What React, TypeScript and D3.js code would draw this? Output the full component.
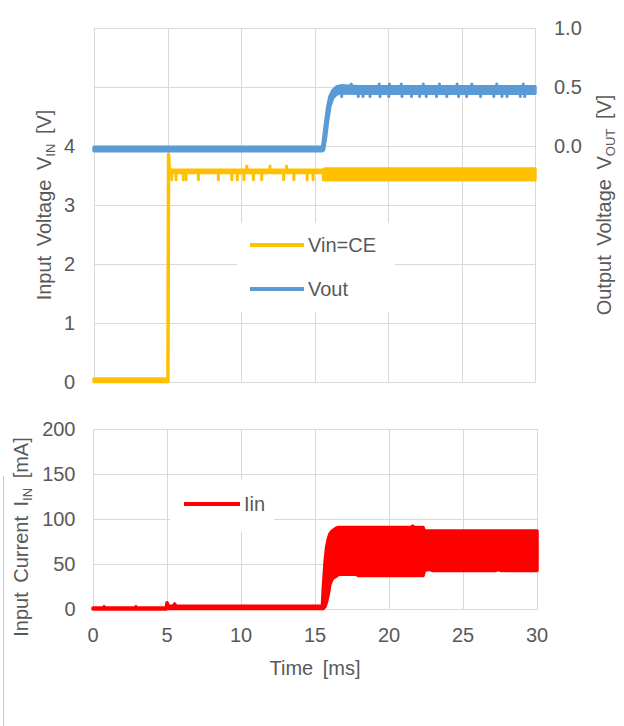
import React from 'react';
import * as d3 from 'd3';

// ---------- axes / ticks ----------
const xTicks = [0, 5, 10, 15, 20, 25, 30];
const vinGrid = [0, 1, 2, 3, 4, 5, 6];
const vinLabels = [0, 1, 2, 3, 4];
const voutLabels = [0, 0.5, 1.0];
const iinTicks = [0, 50, 100, 150, 200];

// ---------- Vin = CE (envelope, V) ----------
const vinTime = [0, 5.03, 5.07, 5.12, 15.6, 15.7, 30];
const vinLo = [0.01, 0.01, 3.84, 3.55, 3.55, 3.43, 3.43];
const vinHi = [0.05, 0.05, 3.86, 3.59, 3.59, 3.61, 3.61];
const vinBase = 3.57;
const vinDips = [5.29, 5.58, 6.07, 6.26, 7.1, 8.46, 9.37, 9.75, 10.2, 10.84, 11.41, 12.9, 13.6, 14.5, 14.9, 15.6];
const vinDipLevel = 3.43;
const vinSpikes = [10.39, 11.97, 13.1];
const vinSpikeLevel = 3.66;

// ---------- Vout (envelope, V) ----------
const voutTime = [0, 15.55, 15.62, 15.75, 15.9, 16.05, 16.25, 16.5, 16.8, 18, 30];
const voutLo = [-0.04, -0.04, -0.03, 0.07, 0.22, 0.34, 0.41, 0.44, 0.45, 0.447, 0.447];
const voutHi = [-0.01, -0.01, 0.06, 0.19, 0.33, 0.42, 0.47, 0.5, 0.51, 0.502, 0.502];
const voutBase = 0.475;
const voutDips = [16.85, 17.98, 18.3, 18.78, 19.46, 20.05, 20.95, 21.6, 22.15, 22.6, 23.3, 24.0, 24.8, 25.35, 26.3, 27.2, 27.75, 28.1, 29.0, 29.3];
const voutDipLevel = 0.42;
const voutSpikes = [17.5, 19.4, 20.1, 20.9, 22.4, 23.5, 24.7, 25.7, 27.4, 29.2];
const voutSpikeLevel = 0.525;

// ---------- Iin (envelope, mA) ----------
const iinTime = [0, 0.7, 0.75, 0.8, 2.85, 2.9, 2.95, 4.95, 5.0, 5.08, 5.2, 5.45, 5.52, 5.6, 5.8, 15.5, 15.55, 15.68, 15.78, 15.9, 16.0, 16.12, 16.2, 16.46, 16.6, 17.8, 17.9, 21.5, 21.6, 21.7, 22.3, 22.4, 22.7, 23.0, 27.2, 27.35, 27.6, 30];
const iinHi = [1, 1, 2.5, 1, 1, 2.5, 1, 1, 7, 4, 3, 3, 5.5, 3, 3, 3, 20, 52, 68, 78, 83, 86, 87, 90, 90.5, 90.5, 90.5, 90.5, 92, 90.5, 90.5, 86.6, 86.6, 86.6, 86.6, 86.6, 86.6, 86.6];
const iinLo = [0, 0, 0, 0, 0, 0, 0, 0, 0.5, 0.5, 0.5, 0.5, 0.5, 0.5, 0.5, 0.5, 0.5, 3, 8, 17, 27, 32, 34, 37, 38.6, 38.6, 37.2, 37.2, 37.2, 37.2, 37.2, 43, 44, 42.7, 42.7, 44, 42.7, 42.7];

const FONT = '"Liberation Sans", Arial, Helvetica, sans-serif';
const TXT = '#595959';
const GRID = '#D9D9D9';
const C_VIN = '#FFC000';
const C_VOUT = '#5B9BD5';
const C_IIN = '#FF0000';

function envPath(
  time: number[], lo: number[], hi: number[],
  x: d3.ScaleLinear<number, number>, y: d3.ScaleLinear<number, number>
) {
  const idx = time.map((_, i) => i);
  return d3.area<number>()
    .x((i) => x(time[i]))
    .y0((i) => y(lo[i]))
    .y1((i) => y(hi[i]))(idx) || '';
}

export default function App() {
  const xTop = d3.scaleLinear().domain([0, 30]).range([94, 535]);
  const yVin = d3.scaleLinear().domain([0, 6]).range([382, 28]);
  const yVout = d3.scaleLinear().domain([-2, 1]).range([382, 28]);
  const xBot = d3.scaleLinear().domain([0, 30]).range([93, 537]);
  const yIin = d3.scaleLinear().domain([0, 200]).range([609, 429]);
  const fmt1 = d3.format('.1f');
  const r = (v: number) => Math.round(v) + 0.5;

  const vinArea = envPath(vinTime, vinLo, vinHi, xTop, yVin);
  const voutArea = envPath(voutTime, voutLo, voutHi, xTop, yVout);
  const iinArea = envPath(iinTime, iinLo, iinHi, xBot, yIin);

  const textStyle = { fontFamily: FONT, fill: TXT };

  return (
    <svg width={624} height={726} style={{ position: 'absolute', left: 0, top: 0, background: '#fff' }}>
      <rect x={0} y={0} width={624} height={726} fill="#fff" />

      {/* ================= TOP PLOT ================= */}
      <g>
        {vinGrid.map((v) => (
          <line key={'hg' + v} x1={xTop(0)} x2={xTop(30)} y1={r(yVin(v))} y2={r(yVin(v))} stroke={GRID} strokeWidth={1} />
        ))}
        {xTicks.map((t) => (
          <line key={'vg' + t} x1={r(xTop(t))} x2={r(xTop(t))} y1={yVin(6)} y2={yVin(0)} stroke={GRID} strokeWidth={1} />
        ))}
        <rect x={r(xTop(0))} y={r(yVin(6))} width={Math.round(xTop(30) - xTop(0))} height={Math.round(yVin(0) - yVin(6))} fill="none" stroke={GRID} />

        {/* legend box (covers grid) */}
        <rect x={237} y={223} width={158} height={89} fill="#fff" />

        {/* Vin */}
        <path d={vinArea} fill={C_VIN} stroke={C_VIN} strokeWidth={3.5} strokeLinejoin="round" />
        {vinDips.map((t, i) => (
          <line key={'vd' + i} x1={xTop(t)} x2={xTop(t)} y1={yVin(vinBase)} y2={yVin(vinDipLevel)} stroke={C_VIN} strokeWidth={3} strokeLinecap="round" />
        ))}
        {vinSpikes.map((t, i) => (
          <line key={'vs' + i} x1={xTop(t)} x2={xTop(t)} y1={yVin(vinBase)} y2={yVin(vinSpikeLevel)} stroke={C_VIN} strokeWidth={3} strokeLinecap="round" />
        ))}

        {/* Vout */}
        <path d={voutArea} fill={C_VOUT} stroke={C_VOUT} strokeWidth={3.5} strokeLinejoin="round" />
        {voutDips.map((t, i) => (
          <line key={'od' + i} x1={xTop(t)} x2={xTop(t)} y1={yVout(voutBase)} y2={yVout(voutDipLevel)} stroke={C_VOUT} strokeWidth={3} strokeLinecap="round" />
        ))}
        {voutSpikes.map((t, i) => (
          <line key={'os' + i} x1={xTop(t)} x2={xTop(t)} y1={yVout(voutBase)} y2={yVout(voutSpikeLevel)} stroke={C_VOUT} strokeWidth={3} strokeLinecap="round" />
        ))}

        {/* left tick labels */}
        {vinLabels.map((v) => (
          <text key={'lt' + v} x={75} y={yVin(v) + 7} textAnchor="end" fontSize={20} style={textStyle}>{v}</text>
        ))}
        {/* right tick labels */}
        {voutLabels.map((v) => (
          <text key={'rt' + v} x={554} y={yVout(v) + 7} textAnchor="start" fontSize={20} style={textStyle}>{fmt1(v)}</text>
        ))}

        {/* axis titles */}
        <text transform="translate(51,205) rotate(-90)" textAnchor="middle" fontSize={20} wordSpacing={4} style={textStyle}>
          <tspan>Input Voltage V</tspan>
          <tspan fontSize={13} dy={4}>IN</tspan>
          <tspan dy={-4}> [V]</tspan>
        </text>
        <text transform="translate(611,205) rotate(-90)" textAnchor="middle" fontSize={20} wordSpacing={4} style={textStyle}>
          <tspan>Output Voltage V</tspan>
          <tspan fontSize={13} dy={4}>OUT</tspan>
          <tspan dy={-4}> [V]</tspan>
        </text>

        {/* legend */}
        <line x1={250} x2={304} y1={245} y2={245} stroke={C_VIN} strokeWidth={4} />
        <text x={308} y={252} fontSize={20} style={textStyle}>Vin=CE</text>
        <line x1={250} x2={304} y1={289} y2={289} stroke={C_VOUT} strokeWidth={4} />
        <text x={308} y={296} fontSize={20} style={textStyle}>Vout</text>
      </g>

      {/* ================= BOTTOM PLOT ================= */}
      <g>
        {iinTicks.map((v) => (
          <line key={'bh' + v} x1={xBot(0)} x2={xBot(30)} y1={r(yIin(v))} y2={r(yIin(v))} stroke={GRID} strokeWidth={1} />
        ))}
        {xTicks.map((t) => (
          <line key={'bv' + t} x1={r(xBot(t))} x2={r(xBot(t))} y1={yIin(200)} y2={yIin(0)} stroke={GRID} strokeWidth={1} />
        ))}
        <rect x={r(xBot(0))} y={r(yIin(200))} width={Math.round(xBot(30) - xBot(0))} height={Math.round(yIin(0) - yIin(200))} fill="none" stroke={GRID} />

        {/* legend box */}
        <rect x={170} y={480} width={104} height={52} fill="#fff" />

        <path d={iinArea} fill={C_IIN} stroke={C_IIN} strokeWidth={3.5} strokeLinejoin="round" />

        {iinTicks.map((v) => (
          <text key={'bl' + v} x={75.5} y={yIin(v) + 7} textAnchor="end" fontSize={20} style={textStyle}>{v}</text>
        ))}
        {xTicks.map((t) => (
          <text key={'bx' + t} x={xBot(t)} y={642} textAnchor="middle" fontSize={20} style={textStyle}>{t}</text>
        ))}

        <text x={(xBot(0) + xBot(30)) / 2} y={675} textAnchor="middle" fontSize={20} wordSpacing={4} style={textStyle}>Time [ms]</text>

        <text transform="translate(28,537) rotate(-90)" textAnchor="middle" fontSize={20} wordSpacing={4} style={textStyle}>
          <tspan>Input Current I</tspan>
          <tspan fontSize={13} dy={4}>IN</tspan>
          <tspan dy={-4}> [mA]</tspan>
        </text>

        <line x1={184} x2={240} y1={504} y2={504} stroke={C_IIN} strokeWidth={4} />
        <text x={244} y={511} fontSize={20} style={textStyle}>Iin</text>
      </g>

      {/* thin border fragment at far left */}
      <line x1={3.5} x2={3.5} y1={476} y2={726} stroke="#C8C8C8" strokeWidth={1} />
    </svg>
  );
}
